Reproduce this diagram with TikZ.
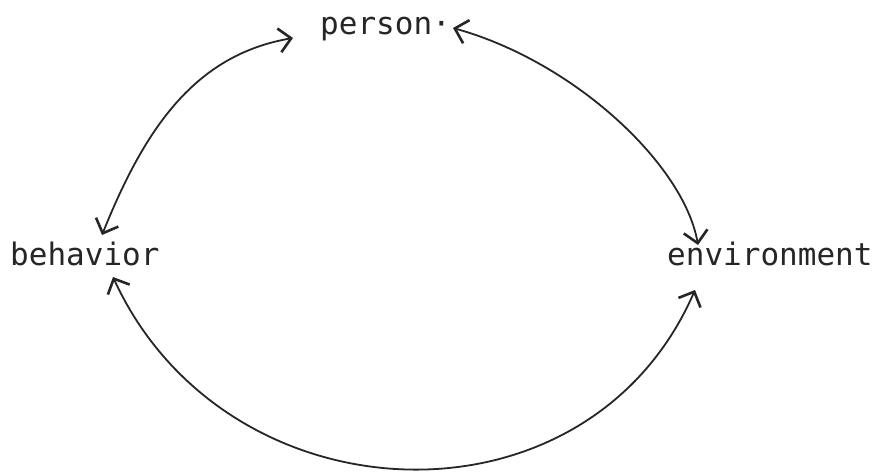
\documentclass[tikz,border=0pt]{standalone}
\usepackage{fontspec}
\setmonofont{DejaVu Sans Mono}
\usetikzlibrary{arrows.meta}
\tikzset{
  lbl/.style={inner sep=0pt, anchor=base west, font=\ttfamily\fontsize{31}{31}\selectfont, text=black!85},
  link/.style={line width=1.8pt, black!85,
    {Straight Barb[length=12pt,width=24pt,line width=2.6pt]}-{Straight Barb[length=12pt,width=24pt,line width=2.6pt]}}
}
\begin{document}
\begin{tikzpicture}[x=1pt,y=-1pt]
\useasboundingbox[fill=white] (0,0) rectangle (880,473);
\node[lbl] (person) at (320,35) {person·};
\node[lbl] (behavior) at (10,265) {behavior};
\node[lbl] (environment) at (667,265) {environment};
% top-left arc: behavior <-> person
\draw[link] ([xshift=92pt,yshift=30pt]behavior.base west)
  .. controls (145,128) and (195,55) .. ([xshift=-27pt,yshift=-3pt]person.base west);
% top-right arc: person <-> environment
\draw[link] ([xshift=133pt,yshift=7pt]person.base west)
  .. controls (575,62) and (684,165) .. ([xshift=31pt,yshift=20pt]environment.base west);
% bottom arc: behavior <-> environment
\draw[link] ([xshift=103pt,yshift=-12pt]behavior.base west)
  .. controls (226,523) and (587,538) .. ([xshift=28pt,yshift=-25pt]environment.base west);
\end{tikzpicture}
\end{document}
